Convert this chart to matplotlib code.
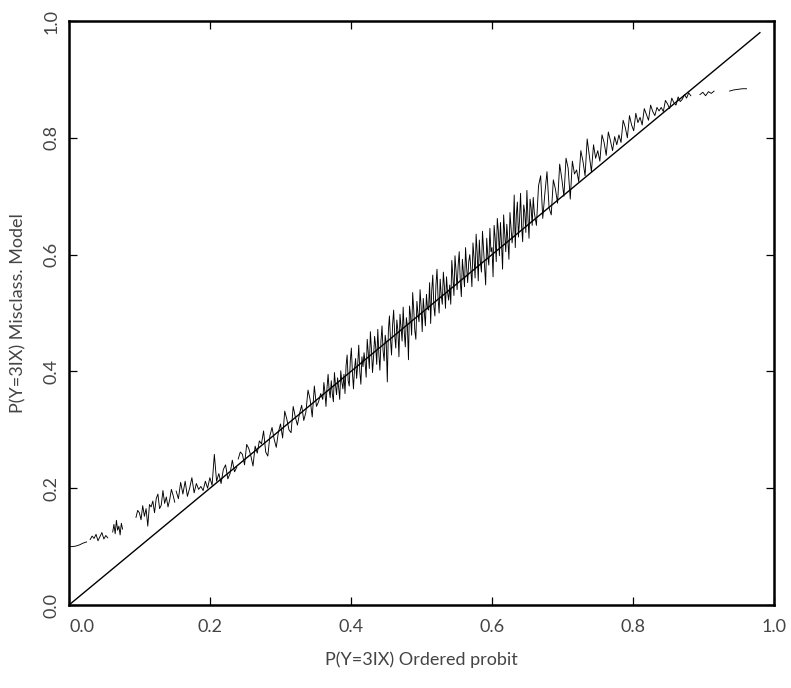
# -*- coding: utf-8 -*-
# script : misclass_vs_probit.py

import matplotlib
matplotlib.use("Agg")
import matplotlib.pyplot as plt
import numpy as np

# x extent of each piece of the curve; gap_after marks missing values
piece_ranges = [(0.000, 0.025), (0.030, 0.055), (0.062, 0.076),
                (0.095, 0.150), (0.152, 0.238), (0.240, 0.357),
                (0.360, 0.6585), (0.660, 0.882),
                (0.895, 0.915), (0.937, 0.961)]
gap_after = [True, True, True, True, True, False, False, True, True, True]

start_y = [0.100, 0.100, 0.101, 0.103, 0.106, 0.108]
low1_y = [0.112, 0.118, 0.114, 0.121, 0.110, 0.117, 0.124, 0.113, 0.119, 0.115]
low2_y = [0.125, 0.138, 0.122, 0.145, 0.128, 0.135, 0.120, 0.140, 0.130]
low3_y = [0.150, 0.162, 0.158, 0.146, 0.170, 0.152, 0.165, 0.135, 0.172, 0.168,
          0.178, 0.158, 0.182, 0.190, 0.165, 0.171, 0.196, 0.174, 0.185, 0.168,
          0.180, 0.198, 0.188, 0.176]
low4_y = [0.195, 0.182, 0.210, 0.190, 0.212, 0.186, 0.200, 0.218, 0.192, 0.208,
          0.198, 0.203, 0.196, 0.212, 0.200, 0.218, 0.205, 0.258, 0.212, 0.225,
          0.208, 0.232, 0.240, 0.216, 0.225, 0.248, 0.228, 0.236]
mid1_y = [
    0.250, 0.262, 0.258, 0.240, 0.275, 0.268, 0.255, 0.238, 0.272, 0.260,
    0.281, 0.276, 0.298, 0.262, 0.255, 0.290, 0.304, 0.284, 0.270, 0.296,
    0.310, 0.286, 0.332, 0.318, 0.300, 0.295, 0.340, 0.322, 0.308, 0.328,
    0.342, 0.316, 0.330, 0.368, 0.352, 0.322, 0.375, 0.340, 0.348, 0.362]
mid2_y = [
    0.352, 0.381, 0.365, 0.340, 0.372, 0.395, 0.368, 0.355, 0.384, 0.362,
    0.348, 0.398, 0.377, 0.360, 0.389, 0.372, 0.352, 0.401, 0.382, 0.370,
    0.395, 0.362, 0.410, 0.428, 0.384, 0.375, 0.418, 0.440, 0.398, 0.370,
    0.405, 0.422, 0.388, 0.412, 0.445, 0.400, 0.378, 0.425, 0.408, 0.432,
    0.415, 0.390, 0.455, 0.432, 0.405, 0.468, 0.438, 0.398, 0.425, 0.460,
    0.442, 0.412, 0.472, 0.430, 0.402, 0.452, 0.478, 0.435, 0.418, 0.462,
    0.448, 0.382, 0.470, 0.495, 0.455, 0.428, 0.480, 0.505, 0.462, 0.440,
    0.488, 0.470, 0.425, 0.498, 0.475, 0.452, 0.510, 0.468, 0.442, 0.492,
    0.478, 0.420, 0.512, 0.495, 0.462, 0.535, 0.505, 0.470, 0.455, 0.520,
    0.498, 0.485, 0.540, 0.510, 0.468, 0.525, 0.502, 0.478, 0.532, 0.508,
    0.505, 0.552, 0.482, 0.538, 0.565, 0.512, 0.495, 0.548, 0.575, 0.525,
    0.500, 0.558, 0.530, 0.515, 0.570, 0.545, 0.508, 0.562, 0.535, 0.522,
    0.548, 0.515, 0.590, 0.562, 0.530, 0.598, 0.572, 0.540, 0.582, 0.605,
    0.555, 0.528, 0.592, 0.568, 0.545, 0.612, 0.578, 0.552, 0.588, 0.600,
    0.575, 0.545, 0.620, 0.595, 0.560, 0.635, 0.602, 0.555, 0.625, 0.588,
    0.570, 0.640, 0.610, 0.578, 0.548, 0.628, 0.598, 0.582, 0.645, 0.605,
    0.612, 0.562, 0.650, 0.628, 0.588, 0.662, 0.640, 0.598, 0.655, 0.618,
    0.575, 0.668, 0.635, 0.605, 0.652, 0.625, 0.592, 0.672, 0.645, 0.620,
    0.640, 0.702, 0.612, 0.668, 0.690, 0.630, 0.658, 0.705, 0.648, 0.622,
    0.685, 0.672, 0.638, 0.710, 0.662, 0.628, 0.695, 0.680, 0.650, 0.698]
mid3_y = [
    0.672, 0.650, 0.718, 0.735, 0.662, 0.705, 0.742, 0.680, 0.668, 0.728,
    0.712, 0.688, 0.755, 0.730, 0.700, 0.765, 0.748, 0.695, 0.760, 0.738,
    0.745, 0.725, 0.778, 0.760, 0.735, 0.798, 0.770, 0.742, 0.788, 0.765,
    0.778, 0.760, 0.805, 0.792, 0.770, 0.810, 0.795, 0.778, 0.802, 0.788,
    0.805, 0.792, 0.830, 0.818, 0.800, 0.838, 0.822, 0.812, 0.842, 0.826,
    0.835, 0.822, 0.850, 0.840, 0.830, 0.856, 0.845, 0.838, 0.852, 0.846,
    0.852, 0.845, 0.864, 0.858, 0.850, 0.868, 0.860, 0.856, 0.870, 0.862,
    0.866, 0.874, 0.868, 0.877, 0.872]
tail1_y = [0.874, 0.878, 0.872, 0.879, 0.876, 0.880]
tail2_y = [0.880, 0.882, 0.883, 0.884, 0.884]

pieces_y = [start_y, low1_y, low2_y, low3_y, low4_y,
            mid1_y, mid2_y, mid3_y, tail1_y, tail2_y]

# reference 45 degree line
diag_x = [0.0, 0.98]
diag_y = [0.0, 0.98]

ticks = [0.0, 0.2, 0.4, 0.6, 0.8, 1.0]
tick_labels = ["0.0", "0.2", "0.4", "0.6", "0.8", "1.0"]

plt.rcParams["font.family"] = ["Lato", "DejaVu Sans"]
txt_color = "#444444"

fig = plt.figure(figsize=(7.91, 6.88), dpi=100)
ax = fig.add_axes([69 / 791, 83 / 688, 705 / 791, 584 / 688])

# build one line, NaN where the series has missing values
xs, ys = [], []
for (x0, x1), yv, brk in zip(piece_ranges, pieces_y, gap_after):
    xs.extend(np.linspace(x0, x1, len(yv)))
    ys.extend(yv)
    if brk:
        xs.append(np.nan)
        ys.append(np.nan)
ax.plot(xs, ys, color="black", lw=0.65)

ax.plot(diag_x, diag_y, color="black", lw=1.0)

ax.set_xlim(0, 1)
ax.set_ylim(0, 1)
ax.set_xticks(ticks)
ax.set_yticks(ticks)
ax.set_xticklabels(tick_labels, fontsize=13, color=txt_color)
ax.set_yticklabels(tick_labels, fontsize=13, color=txt_color,
                   rotation=90, va="center")
ax.get_xticklabels()[0].set_horizontalalignment("left")

ax.tick_params(direction="in", length=6, width=0.9, top=True, right=True)
ax.tick_params(axis="x", pad=10)
ax.tick_params(axis="y", pad=7)
for spine in ax.spines.values():
    spine.set_linewidth(1.8)

ax.set_xlabel("P(Y=3IX) Ordered probit", fontsize=13, color=txt_color,
              labelpad=12)
ax.set_ylabel("P(Y=3IX) Misclass. Model", fontsize=13, color=txt_color,
              labelpad=12)

fig.savefig("out.png", dpi=100)
